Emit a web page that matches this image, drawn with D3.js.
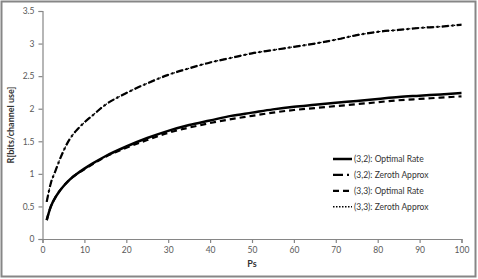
<!doctype html>
<html lang="en">
  <head>
    <meta charset="utf-8">
    <title>R vs Ps</title>
    <style>
      * { margin: 0; border: 0; padding: 0; }
      body { background: #fff; }
      text { font-family: 'Lato', 'Liberation Sans', sans-serif; }
    </style>
  </head>
  <body>
    <div id="plot"></div>

<script src="https://cdn.jsdelivr.net/npm/d3@7"></script>
<script>

  // values
  var ps        = [1, 2, 3, 4, 5, 6, 7, 8, 10, 12, 15, 20, 25, 30, 35, 40, 45, 50, 55, 60, 65, 70, 75, 80, 85, 90, 95, 100];
  var opt32     = [0.29, 0.50, 0.63, 0.73, 0.81, 0.88, 0.94, 0.99, 1.08, 1.16, 1.27, 1.42, 1.55, 1.66, 1.75, 1.82, 1.89, 1.94, 1.99, 2.03, 2.06, 2.09, 2.12, 2.15, 2.18, 2.20, 2.22, 2.24];
  var zero32    = [0.57, 0.86, 1.03, 1.20, 1.35, 1.48, 1.58, 1.66, 1.79, 1.90, 2.06, 2.24, 2.39, 2.52, 2.62, 2.71, 2.78, 2.85, 2.90, 2.95, 3.00, 3.06, 3.13, 3.18, 3.21, 3.24, 3.26, 3.29];
  var opt33     = [0.29, 0.50, 0.63, 0.73, 0.81, 0.88, 0.94, 0.99, 1.07, 1.15, 1.26, 1.40, 1.52, 1.63, 1.71, 1.78, 1.84, 1.89, 1.94, 1.98, 2.01, 2.04, 2.07, 2.10, 2.13, 2.15, 2.17, 2.19];
  var zero33    = zero32.slice();
  var xTicks    = [0, 10, 20, 30, 40, 50, 60, 70, 80, 90, 100];
  var yTicks    = [0, 0.5, 1, 1.5, 2, 2.5, 3, 3.5];
  var names     = ["(3,2): Optimal Rate", "(3,2): Zeroth Approx", "(3,3): Optimal Rate", "(3,3): Zeroth Approx"];

  var width  = 478;
  var height = 279;

  var xscale = d3.scaleLinear().domain([0, 100]).range([42.5, 461.5]);
  var yscale = d3.scaleLinear().domain([0, 3.5]).range([239, 11]);

  var svg = d3.select("#plot").append("svg").attr("width", width).attr("height", height);

  // outer frame
  svg.append("rect").attr("x", 1.5).attr("y", 1.5).attr("width", 474).attr("height", 275)
    .style("fill", "none").style("stroke", "#868686").style("stroke-width", 2);

  var xAxis = svg.append("g").attr("transform", "translate(0,239)")
    .call(d3.axisBottom(xscale).tickValues(xTicks).tickSize(4).tickPadding(4));
  var yAxis = svg.append("g").attr("transform", "translate(42.5,0)")
    .call(d3.axisLeft(yscale).tickValues(yTicks).tickSize(4).tickPadding(4).tickFormat(d3.format("")));

  [xAxis, yAxis].forEach(function(a) {
    a.select(".domain").style("stroke", "#868686").style("stroke-width", 1.2);
    a.selectAll(".tick line").style("stroke", "#868686").style("stroke-width", 1.2);
    a.selectAll(".tick text").style("fill", "#595959").style("font-size", "8.5px")
      .style("font-family", "Lato, 'Liberation Sans', sans-serif");
  });

  svg.append("text").attr("x", 252).attr("y", 267).attr("text-anchor", "middle")
    .style("font-size", "9px").style("font-weight", "bold").style("fill", "#333").text("Ps");
  svg.append("text").attr("transform", "translate(14,125) rotate(-90)").attr("text-anchor", "middle")
    .style("font-size", "9px").style("font-weight", "bold").style("fill", "#333").text("R[bits/channel use]");

  var styles = [
    { w: 2.5, dash: null },
    { w: 2.2, dash: "7,3,2,3" },
    { w: 2.2, dash: "6,4" },
    { w: 1.2, dash: "1.5,1.5" }
  ];
  var series = [opt32, zero32, opt33, zero33];

  var line = d3.line().x((d) => xscale(d[0])).y((d) => yscale(d[1])).curve(d3.curveMonotoneX);

  // dotted first so the dash-dot sits on top, then dashed under the solid
  [3, 1, 2, 0].forEach(function(k) {
    svg.append("path").attr("d", line(ps.map((p, i) => [p, series[k][i]])))
      .style("fill", "none").style("stroke", "#000")
      .style("stroke-width", styles[k].w)
      .style("stroke-dasharray", styles[k].dash);
  });

  // legend
  var legendDash = [null, "10,4,2,4", "6,4", "1.5,1.5"];
  var leg = svg.append("g");
  names.forEach(function(n, k) {
    var y = 159 + k * 15.9;
    leg.append("line").attr("x1", 333).attr("x2", 352).attr("y1", y).attr("y2", y)
      .style("stroke", "#000").style("stroke-width", k == 3 ? 1.5 : styles[k].w)
      .style("stroke-dasharray", legendDash[k]);
    leg.append("text").attr("x", 354).attr("y", y + 3).style("font-size", "8.5px").style("fill", "#333").text(n);
  });

</script>
  </body>
</html>
